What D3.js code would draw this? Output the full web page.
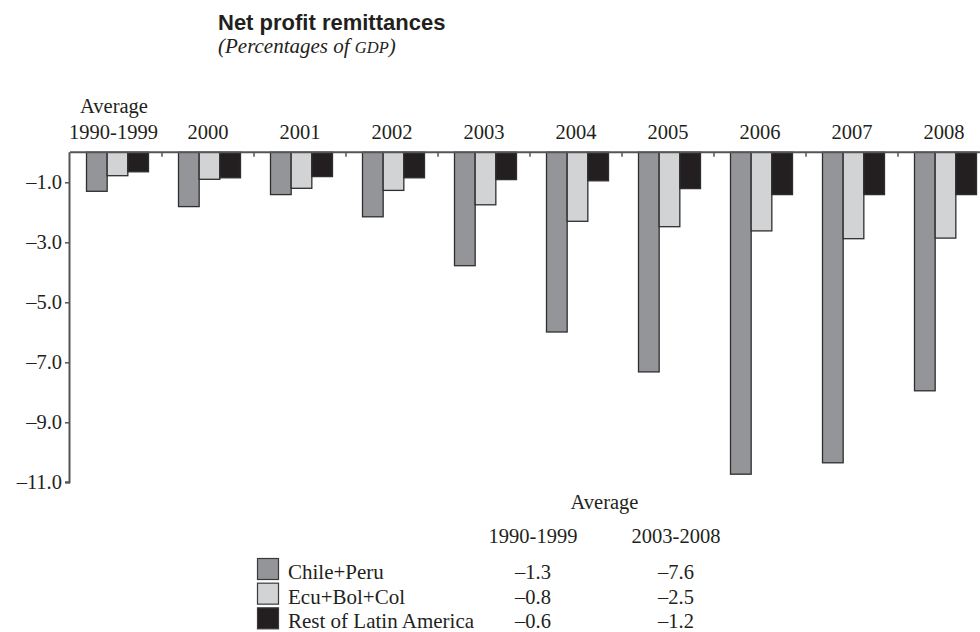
<!DOCTYPE html>
<html>
<head>
<meta charset="utf-8">
<script src="https://cdn.jsdelivr.net/npm/d3@7"></script>
<style>
  html, body { margin: 0; padding: 0; background: #fff; }
  svg { display: block; }
</style>
</head>
<body>
<svg id="chart" width="980" height="632"></svg>
<script>
// ---- Data ----
const categories = ["1990-1999", "2000", "2001", "2002", "2003", "2004", "2005", "2006", "2007", "2008"];
const seriesNames = ["Chile+Peru", "Ecu+Bol+Col", "Rest of Latin America"];
const chilePeru = [-1.3, -1.81, -1.41, -2.15, -3.78, -5.99, -7.32, -10.73, -10.35, -7.95];
const ecuBolCol = [-0.78, -0.9, -1.2, -1.27, -1.75, -2.3, -2.48, -2.62, -2.88, -2.86];
const restLatAm = [-0.65, -0.85, -0.81, -0.85, -0.91, -0.95, -1.21, -1.41, -1.41, -1.41];
const yTicks = [-1, -3, -5, -7, -9, -11];
const tableHeaders = ["1990-1999", "2003-2008"];
const avg9099 = ["\u20131.3", "\u20130.8", "\u20130.6"];
const avg0308 = ["\u20137.6", "\u20132.5", "\u20131.2"];

const seriesValues = [chilePeru, ecuBolCol, restLatAm];
const colors = ["#939598", "#d1d3d4", "#231f20"];
const serif = "'Liberation Serif', 'Times New Roman', serif";
const sans = "'Liberation Sans', Arial, sans-serif";
const ink = "#231f20";
const fs = 20.5;

const svg = d3.select("#chart");

// ---- Scales ----
const x0 = d3.scaleBand().domain(categories).range([70, 990]).paddingInner(0).paddingOuter(0);
const x1 = d3.scaleBand().domain(seriesNames).range([16.5, 78.5]).padding(0);
const y = d3.scaleLinear().domain([0, -11]).range([152.3, 482.3]);

// ---- Title ----
svg.append("text").attr("x", 218).attr("y", 30)
  .attr("font-family", sans).attr("font-weight", "bold").attr("font-size", 22)
  .attr("fill", ink).text("Net profit remittances");
const sub = svg.append("text").attr("x", 218).attr("y", 53)
  .attr("font-family", serif).attr("font-style", "italic").attr("font-size", 21)
  .attr("fill", ink);
sub.append("tspan").text("(Percentages of ");
sub.append("tspan").attr("font-size", 16.5).text("GDP");
sub.append("tspan").text(")");

// ---- Bars ----
const groups = svg.append("g").selectAll("g").data(categories).join("g")
  .attr("transform", d => `translate(${x0(d)},0)`);
groups.selectAll("rect")
  .data((d, i) => seriesNames.map((s, j) => ({ s, v: seriesValues[j][i], j })))
  .join("rect")
  .attr("x", d => x1(d.s))
  .attr("y", y(0))
  .attr("width", x1.bandwidth())
  .attr("height", d => y(d.v) - y(0))
  .attr("fill", d => colors[d.j])
  .attr("stroke", "#2e2e2e")
  .attr("stroke-width", 1.3);

// ---- Y axis ----
const yAxis = d3.axisLeft(y).tickValues(yTicks).tickSize(5).tickPadding(3)
  .tickFormat(d => (d < 0 ? "\u2013" : "") + d3.format(".1f")(Math.abs(d)));
const gy = svg.append("g").attr("transform", "translate(70,0)").call(yAxis);
gy.select(".domain").attr("d", `M-0.5,${y(0)}V${y(-11)}H-5`).attr("stroke", "#555").attr("stroke-width", 2);
gy.selectAll(".tick line").attr("stroke", "#555").attr("stroke-width", 1.5);
gy.selectAll(".tick text").attr("font-family", serif).attr("font-size", fs).attr("fill", ink);

// ---- Top (category) axis ----
const xAxis = d3.axisBottom(x0).tickSize(0).tickFormat("");
const gx = svg.append("g").attr("transform", `translate(0,${y(0)})`).call(xAxis);
gx.select(".domain").attr("d", "M70,0H980").attr("stroke", "#555").attr("stroke-width", 2);
gx.selectAll(".tick").remove();
gx.selectAll(".sep").data(categories.slice(1)).join("line")
  .attr("class", "sep")
  .attr("x1", d => x0(d)).attr("x2", d => x0(d))
  .attr("y1", 0).attr("y2", 4.5)
  .attr("stroke", "#555").attr("stroke-width", 1.5);

// category labels
const catLabels = svg.append("g");
catLabels.selectAll("text.cat").data(categories).join("text")
  .attr("class", "cat")
  .attr("x", d => x0(d) + x0.bandwidth() / 2 - (d === categories[0] ? 2.5 : 0))
  .attr("y", 139.3)
  .attr("text-anchor", "middle")
  .attr("font-family", serif).attr("font-size", fs).attr("fill", ink)
  .text(d => d);
catLabels.append("text")
  .attr("x", x0(categories[0]) + x0.bandwidth() / 2 - 2)
  .attr("y", 112.5)
  .attr("text-anchor", "middle")
  .attr("font-family", serif).attr("font-size", fs).attr("fill", ink)
  .text("Average");

// ---- Legend ----
const legend = svg.append("g");
const ly = d3.scaleBand().domain(seriesNames).range([558, 632]).padding(0);
legend.selectAll("rect").data(seriesNames).join("rect")
  .attr("x", 257.5).attr("y", d => ly(d) + 0.5)
  .attr("width", 21).attr("height", 21)
  .attr("fill", (d, i) => colors[i])
  .attr("stroke", "#3a3a3a").attr("stroke-width", 1.2);
legend.selectAll("text.lab").data(seriesNames).join("text")
  .attr("class", "lab")
  .attr("x", 288).attr("y", d => ly(d) + 21)
  .attr("font-family", serif).attr("font-size", 21).attr("fill", ink)
  .text(d => d);

// ---- Table ----
const colX = [533, 676];
legend.append("text").attr("x", (colX[0] + colX[1]) / 2).attr("y", 509.3)
  .attr("text-anchor", "middle").attr("font-family", serif).attr("font-size", fs).attr("fill", ink)
  .text("Average");
legend.selectAll("text.hdr").data(tableHeaders).join("text")
  .attr("class", "hdr")
  .attr("x", (d, i) => colX[i]).attr("y", 542.7)
  .attr("text-anchor", "middle").attr("font-family", serif).attr("font-size", fs).attr("fill", ink)
  .text(d => d);
[avg9099, avg0308].forEach((col, ci) => {
  legend.selectAll("text.v" + ci).data(col).join("text")
    .attr("class", "v" + ci)
    .attr("x", colX[ci]).attr("y", (d, i) => ly(seriesNames[i]) + 21)
    .attr("text-anchor", "middle").attr("font-family", serif).attr("font-size", fs).attr("fill", ink)
    .text(d => d);
});
</script>
</body>
</html>
